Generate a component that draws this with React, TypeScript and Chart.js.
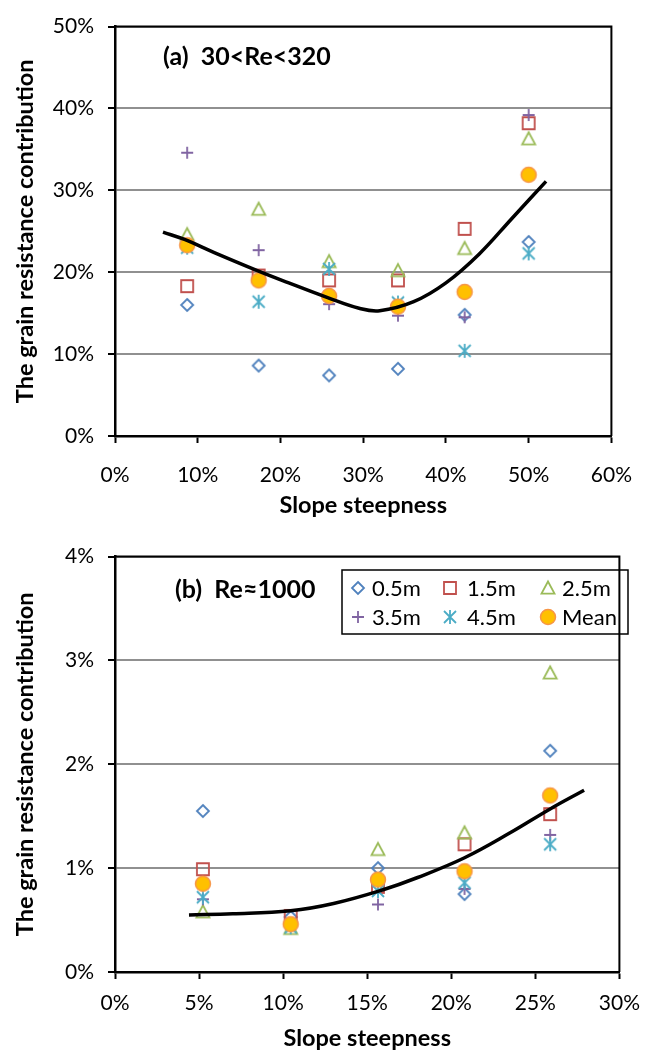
import React, { useEffect, useRef } from 'react';
import { Chart, registerables } from 'chart.js';

Chart.register(...registerables);

const FONT = 'Lato, "DejaVu Sans", sans-serif';

// ---------- Chart (a) data ----------
const slopeA = [8.72, 17.36, 25.88, 34.2, 42.26, 50.0];
const a05 = [16.0, 8.6, 7.4, 8.2, 14.8, 23.7];
const a15 = [18.3, 19.6, 19.0, 19.0, 25.3, 38.2];
const a25 = [24.6, 27.7, 21.3, 20.2, 22.9, 36.3];
const a35 = [34.6, 22.7, 16.1, 14.7, 14.5, 39.2];
const a45 = [23.0, 16.4, 20.4, 16.3, 10.4, 22.3];
const aMean = [23.3, 19.0, 17.1, 15.8, 17.6, 31.9];
const trendAx = [5.8, 8.4, 12, 17.2, 21, 25.7, 29.5, 32, 36.1, 40, 44, 48, 52.1];
const trendAy = [24.9, 24.0, 22.4, 20.2, 18.7, 16.9, 15.6, 15.3, 16.4, 18.7, 22.2, 26.6, 31.1];

// ---------- Chart (b) data ----------
const slopeB = [5.23, 10.45, 15.64, 20.79, 25.88];
const b05 = [1.55, 0.53, 1.0, 0.75, 2.13];
const b15 = [0.99, 0.54, 0.82, 1.23, 1.52];
const b25 = [0.58, 0.42, 1.18, 1.34, 2.88];
const b35 = [0.7, 0.45, 0.65, 0.8, 1.32];
const b45 = [0.72, 0.43, 0.78, 0.86, 1.23];
const bMean = [0.85, 0.46, 0.89, 0.97, 1.7];
const trendBx = [4.4, 7, 10.45, 13, 15.9, 18, 20.79, 23.5, 25.88, 27.9];
const trendBy = [0.55, 0.56, 0.59, 0.66, 0.79, 0.91, 1.1, 1.34, 1.57, 1.75];

const seriesLabels = ['0.5m', '1.5m', '2.5m', '3.5m', '4.5m', 'Mean'];
const markerKinds = ['diamond', 'square', 'triangle', 'plus', 'asterisk', 'circle'];
const markerColors = ['#4F81BD', '#C0504D', '#9BBB59', '#8064A2', '#4BACC6', '#F79646'];

const xTitle = 'Slope steepness';
const yTitle = 'The grain resistance contribution';

function makeMarker(kind: string, color: string): HTMLCanvasElement {
  const c = document.createElement('canvas');
  const s = 20;
  c.width = s;
  c.height = s;
  const ctx = c.getContext('2d')!;
  const m = s / 2;
  ctx.strokeStyle = color;
  ctx.lineWidth = 1.8;
  ctx.beginPath();
  if (kind === 'diamond') {
    const r = 6;
    ctx.moveTo(m, m - r);
    ctx.lineTo(m + r, m);
    ctx.lineTo(m, m + r);
    ctx.lineTo(m - r, m);
    ctx.closePath();
    ctx.stroke();
  } else if (kind === 'square') {
    const r = 6;
    ctx.rect(m - r, m - r, 2 * r, 2 * r);
    ctx.stroke();
  } else if (kind === 'triangle') {
    const r = 6.5;
    ctx.moveTo(m, m - r);
    ctx.lineTo(m + r, m + r * 0.85);
    ctx.lineTo(m - r, m + r * 0.85);
    ctx.closePath();
    ctx.stroke();
  } else if (kind === 'plus') {
    const r = 6;
    ctx.moveTo(m - r, m);
    ctx.lineTo(m + r, m);
    ctx.moveTo(m, m - r);
    ctx.lineTo(m, m + r);
    ctx.stroke();
  } else if (kind === 'asterisk') {
    const r = 6;
    ctx.moveTo(m - r, m - r);
    ctx.lineTo(m + r, m + r);
    ctx.moveTo(m + r, m - r);
    ctx.lineTo(m - r, m + r);
    ctx.moveTo(m, m - r - 1);
    ctx.lineTo(m, m + r + 1);
    ctx.stroke();
  } else {
    ctx.arc(m, m, 7.5, 0, Math.PI * 2);
    ctx.fillStyle = '#FFC000';
    ctx.fill();
    ctx.lineWidth = 1.5;
    ctx.stroke();
  }
  return c;
}

const framePlugin = {
  id: 'frameAndNotes',
  afterDraw(chart: any, _args: any, o: any) {
    const { ctx } = chart;
    const { left, right, top, bottom } = chart.chartArea;
    ctx.save();
    ctx.strokeStyle = '#000';
    ctx.lineWidth = 2;
    ctx.beginPath();
    ctx.moveTo(left - 1, top);
    ctx.lineTo(right, top);
    ctx.lineTo(right, bottom);
    ctx.stroke();

    ctx.fillStyle = '#000';
    ctx.textBaseline = 'middle';
    ctx.textAlign = 'left';
    ctx.font = `bold 25px ${FONT}`;
    ctx.fillText(o.note, o.noteX, o.noteY);

    if (o.legend) {
      const L = o.legend;
      ctx.lineWidth = 1.5;
      ctx.strokeRect(L.x, L.y, L.w, L.h);
      ctx.font = `22px ${FONT}`;
      const markers: HTMLCanvasElement[] = o.markers;
      for (let i = 0; i < seriesLabels.length; i++) {
        const row = Math.floor(i / 3);
        const col = i % 3;
        const cy = L.rows[row];
        const mx = L.markerX[col];
        const mk = markers[i];
        ctx.drawImage(mk, mx - mk.width / 2, cy - mk.height / 2);
        ctx.fillText(seriesLabels[i], L.textX[col], cy + 1);
      }
    }
    ctx.restore();
  },
};

function buildChart(canvas: HTMLCanvasElement, cfg: any) {
  const markers = markerKinds.map((k, i) => makeMarker(k, markerColors[i]));
  const datasets: any[] = cfg.series.map((vals: number[], i: number) => ({
    label: seriesLabels[i],
    data: cfg.x.map((x: number, j: number) => ({ x, y: vals[j] })),
    pointStyle: markers[i],
    pointRadius: 7,
    pointHoverRadius: 7,
    showLine: false,
    order: 6 - i,
  }));
  datasets.push({
    label: 'trend',
    data: cfg.tx.map((x: number, j: number) => ({ x, y: cfg.ty[j] })),
    showLine: true,
    borderColor: '#000',
    borderWidth: 3.5,
    pointRadius: 0,
    tension: 0.4,
    fill: false,
    order: 0,
  });

  return new Chart(canvas, {
    type: 'scatter',
    data: { datasets },
    plugins: [framePlugin],
    options: {
      responsive: false,
      animation: false,
      layout: { padding: { left: 0, right: 20, top: cfg.padTop, bottom: 0 } },
      plugins: {
        legend: { display: false },
        tooltip: { enabled: false },
        frameAndNotes: {
          note: cfg.note,
          noteX: cfg.noteX,
          noteY: cfg.noteY,
          legend: cfg.legend,
          markers,
        },
      } as any,
      scales: {
        x: {
          type: 'linear',
          min: 0,
          max: cfg.xMax,
          afterFit: (s: any) => {
            s.height = cfg.xAxisH;
          },
          ticks: {
            stepSize: cfg.xStep,
            callback: (v: any) => `${Math.round(v)}%`,
            font: { family: FONT, size: 21 },
            color: '#000',
            padding: cfg.xTickPad,
            maxRotation: 0,
            autoSkip: false,
          },
          grid: {
            drawOnChartArea: false,
            drawTicks: true,
            tickLength: 7,
            tickColor: '#000',
            tickWidth: 2,
          },
          border: { display: true, color: '#000', width: 2.5 },
          title: {
            display: true,
            text: xTitle,
            color: '#000',
            font: { family: FONT, size: 23.5, weight: 'bold' },
            padding: { top: 0, bottom: cfg.xTitlePad },
          },
        },
        y: {
          type: 'linear',
          min: 0,
          max: cfg.yMax,
          afterFit: (s: any) => {
            s.width = 115;
          },
          ticks: {
            stepSize: cfg.yStep,
            callback: (v: any) => `${Math.round(v)}%`,
            font: { family: FONT, size: 21 },
            color: '#000',
            padding: 14,
          },
          grid: {
            color: '#909090',
            lineWidth: 2,
            drawTicks: true,
            tickLength: 7,
            tickColor: '#000',
            tickWidth: 2,
          },
          border: { display: true, color: '#000', width: 2.5 },
          title: {
            display: true,
            text: yTitle,
            color: '#000',
            font: { family: FONT, size: 23.5, weight: 'bold' },
            padding: { top: 11, bottom: 0 },
          },
        },
      },
    } as any,
  });
}

export default function App() {
  const refA = useRef<HTMLCanvasElement>(null);
  const refB = useRef<HTMLCanvasElement>(null);

  useEffect(() => {
    const cA = buildChart(refA.current!, {
      x: slopeA,
      series: [a05, a15, a25, a35, a45, aMean],
      tx: trendAx,
      ty: trendAy,
      xMax: 60,
      xStep: 10,
      yMax: 50,
      yStep: 10,
      padTop: 21,
      xAxisH: 94,
      xTickPad: 20,
      xTitlePad: 10,
      note: '(a)  30<Re<320',
      noteX: 163,
      noteY: 57,
      legend: null,
    });
    const cB = buildChart(refB.current!, {
      x: slopeB,
      series: [b05, b15, b25, b35, b45, bMean],
      tx: trendBx,
      ty: trendBy,
      xMax: 30,
      xStep: 5,
      yMax: 4,
      yStep: 1,
      padTop: 23,
      xAxisH: 81,
      xTickPad: 12,
      xTitlePad: 0,
      note: '(b)  Re\u22481000',
      noteX: 175,
      noteY: 60,
      legend: {
        x: 342,
        y: 40,
        w: 286,
        h: 64,
        rows: [58, 87],
        markerX: [358, 450, 548],
        textX: [372, 467, 562],
      },
    });
    return () => {
      cA.destroy();
      cB.destroy();
    };
  }, []);

  return (
    <div style={{ position: 'absolute', left: 0, top: 0, width: 652, height: 1053, background: '#fff' }}>
      <canvas ref={refA} width={652} height={530} style={{ display: 'block' }} />
      <canvas ref={refB} width={652} height={523} style={{ display: 'block' }} />
    </div>
  );
}
